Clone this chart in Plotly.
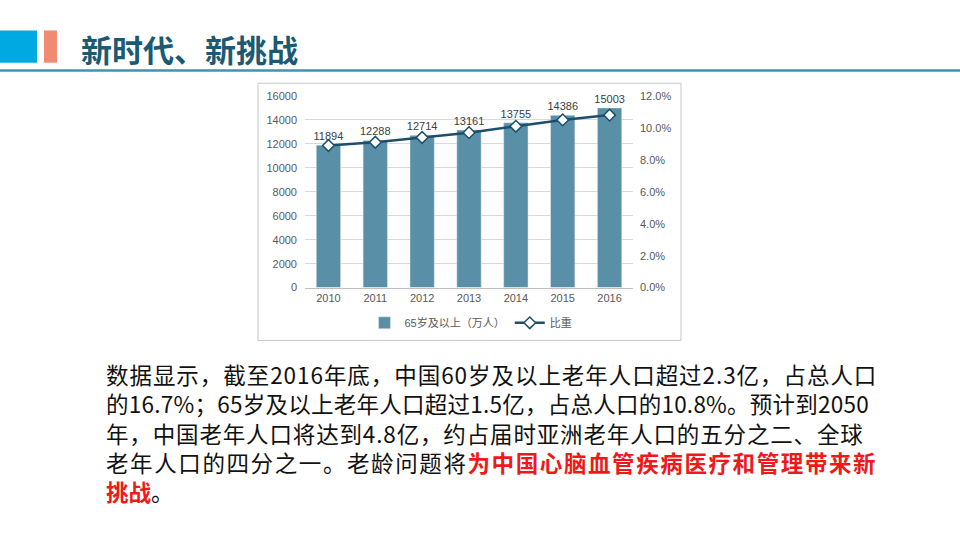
"""
Slide: 新时代、新挑战 - elderly population bar + ratio line
"""
import plotly.graph_objects as go

W, H = 960, 540

# data
years = ['2010', '2011', '2012', '2013', '2014', '2015', '2016']
pop_65 = [11894, 12288, 12714, 13161, 13755, 14386, 15003]   # 万人
ratio = [8.9, 9.1, 9.4, 9.7, 10.1, 10.5, 10.8]              # %

bar_name = '65岁及以上（万人）'
line_name = '比重'

title_text = '新时代、新挑战'
body_lines = [
    '数据显示，截至2016年底，中国60岁及以上老年人口超过2.3亿，占总人口',
    '的16.7%；65岁及以上老年人口超过1.5亿，占总人口的10.8%。预计到2050',
    '年，中国老年人口将达到4.8亿，约占届时亚洲老年人口的五分之二、全球',
    '老年人口的四分之一。老龄问题将<span style="color:#f01818"><b>为中国心脑血管疾病医疗和管理带来新</b></span>',
    '<span style="color:#f01818"><b>挑战</b></span>。',
]
# extra letter spacing per line (px) to mimic the justified paragraph
line_spacing_px = [0.95, 0.25, 0.85, 1.6, 0]


def px_x(x):
    return x / W


def px_y(y):
    return 1 - y / H


CHART_FONT = 'Liberation Sans, Noto Sans CJK SC, sans-serif'
CJK_FONT = 'Noto Sans CJK SC, sans-serif'

fig = go.Figure()

fig.add_trace(go.Bar(
    x=years, y=pop_65, name=bar_name,
    marker_color='#5a90a7', width=0.52,
    text=pop_65, textposition='outside', cliponaxis=False,
    constraintext='none',
    textfont=dict(size=11, color='#404040', family=CHART_FONT),
))

fig.add_trace(go.Scatter(
    x=years, y=ratio, name=line_name, yaxis='y2',
    mode='lines+markers',
    line=dict(color='#1d4f6b', width=2.5),
    marker=dict(symbol='diamond', size=9, color='white',
                line=dict(color='#1d4f6b', width=1.5)),
))

fig.update_layout(
    width=W, height=H,
    margin=dict(l=0, r=0, t=0, b=0),
    paper_bgcolor='white', plot_bgcolor='white',
    font=dict(family=CHART_FONT, size=11, color='#595959'),
    showlegend=True,
    legend=dict(orientation='h', x=px_x(471), y=px_y(324),
                xanchor='center', yanchor='middle',
                font=dict(size=11, color='#595959', family=CHART_FONT),
                bgcolor='rgba(0,0,0,0)'),
    xaxis=dict(domain=[px_x(305), px_x(633)], type='category',
               range=[-0.5, 6.5], showline=True, linecolor='#bfbfbf',
               showgrid=False, ticks='', tickfont=dict(size=11, color='#595959')),
    yaxis=dict(domain=[px_y(288), px_y(92)], range=[0, 16000], dtick=2000,
               tickformat='d', ticklabelstandoff=7,
               showgrid=True, gridcolor='#d9d9d9', zeroline=False,
               ticks='', tickfont=dict(size=11, color='#595959')),
    yaxis2=dict(overlaying='y', side='right', range=[0, 12], dtick=2,
                tickformat='.1f', ticksuffix='%', showgrid=False,
                ticklabelstandoff=6,
                zeroline=False, ticks='', tickfont=dict(size=11, color='#595959')),
    hovermode=False,
)

shapes = [
    # header blocks and rule
    dict(type='rect', xref='paper', yref='paper',
         x0=px_x(0), x1=px_x(37), y0=px_y(58), y1=px_y(25),
         fillcolor='#00a9e2', line_width=0),
    dict(type='rect', xref='paper', yref='paper',
         x0=px_x(44), x1=px_x(57), y0=px_y(58), y1=px_y(25),
         fillcolor='#f08a72', line_width=0),
    dict(type='line', xref='paper', yref='paper',
         x0=0, x1=1, y0=px_y(66), y1=px_y(66),
         line=dict(color='#3f94aa', width=2.5)),
    # chart frame
    dict(type='rect', xref='paper', yref='paper',
         x0=px_x(258), x1=px_x(681), y0=px_y(342), y1=px_y(79),
         line=dict(color='#c6c6c6', width=1), fillcolor='rgba(0,0,0,0)'),
]
fig.update_layout(shapes=shapes)

fig.add_annotation(
    text='<b>' + title_text + '</b>', xref='paper', yref='paper',
    x=px_x(79), y=px_y(43), xanchor='left', yanchor='middle',
    showarrow=False, font=dict(family=CJK_FONT, size=31, color='#1b5a70'),
)

# paragraph as one block so the line spacing comes from the font
para = '<br>'.join(
    '<span style="letter-spacing:%.2fpx">%s</span>' % (sp, ln)
    for sp, ln in zip(line_spacing_px, body_lines)
)
fig.add_annotation(
    text=para, xref='paper', yref='paper',
    x=px_x(104), y=px_y(436), xanchor='left', yanchor='middle',
    showarrow=False, align='left',
    font=dict(family=CJK_FONT, size=22.5, color='#111111'),
)

# drop the default page margin so the figure sits at the window corner
fig.write_html('out.html', config={'displayModeBar': False},
               post_script="document.body.style.margin='0';")
